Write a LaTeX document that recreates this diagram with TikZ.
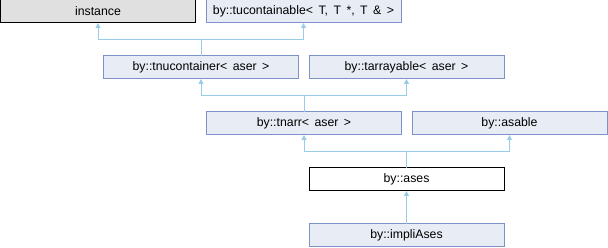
\documentclass[tikz,border=0pt]{standalone}
\usepackage{fontspec}
\setmainfont{Liberation Sans}[WordSpace=1.6]
\usetikzlibrary{arrows.meta}
\definecolor{boxfill}{HTML}{E8ECF5}
\definecolor{boxline}{HTML}{7C92C8}
\definecolor{edgecol}{HTML}{98CCEA}
\definecolor{greyfill}{HTML}{E0E0E0}
\tikzset{
  box/.style={draw=boxline, fill=boxfill, line width=1pt, minimum width=195pt, minimum height=23pt,
    inner sep=0pt, outer sep=0pt, font=\fontsize{12.3pt}{14pt}\selectfont, text=black},
  greybox/.style={box, draw=black, fill=greyfill},
  whitebox/.style={box, draw=black, fill=white},
  edgeline/.style={draw=edgecol, line width=1pt},
  arr/.style={edgeline, -{Triangle[width=5pt,length=5pt]}}
}
\begin{document}
\begin{tikzpicture}[x=1pt,y=-1pt]
\useasboundingbox (0,0) rectangle (608,248);
\node[greybox] (instance) at (98,11.5) {instance};
\node[box] (tucont) at (303.5,11.5) {by::tucontainable< T, T *, T \& >};
\node[box] (tnucont) at (201,67.5) {by::tnucontainer< aser >};
\node[box] (tarray) at (406.5,67.5) {by::tarrayable< aser >};
\node[box] (tnarr) at (304,123.5) {by::tnarr< aser >};
\node[box] (asable) at (509.5,123.5) {by::asable};
\node[whitebox] (ases) at (406.5,179.5) {by::ases};
\node[box] (impli) at (406.5,235.5) {by::impliAses};
% row 1 joint
\coordinate (j1) at (201,40);
\draw[edgeline] (tnucont.north) -- (j1);
\draw[arr] (j1) -| (instance.south);
\draw[arr] (j1) -| (tucont.south);
% row 2 joint
\coordinate (j2) at (304,96);
\draw[edgeline] (tnarr.north) -- (j2);
\draw[arr] (j2) -| (tnucont.south);
\draw[arr] (j2) -| (tarray.south);
% row 3 joint
\coordinate (j3) at (406.5,152);
\draw[edgeline] (ases.north) -- (j3);
\draw[arr] (j3) -| (tnarr.south);
\draw[arr] (j3) -| (asable.south);
% row 4
\draw[arr] (impli.north) -- (ases.south);
\end{tikzpicture}
\end{document}
